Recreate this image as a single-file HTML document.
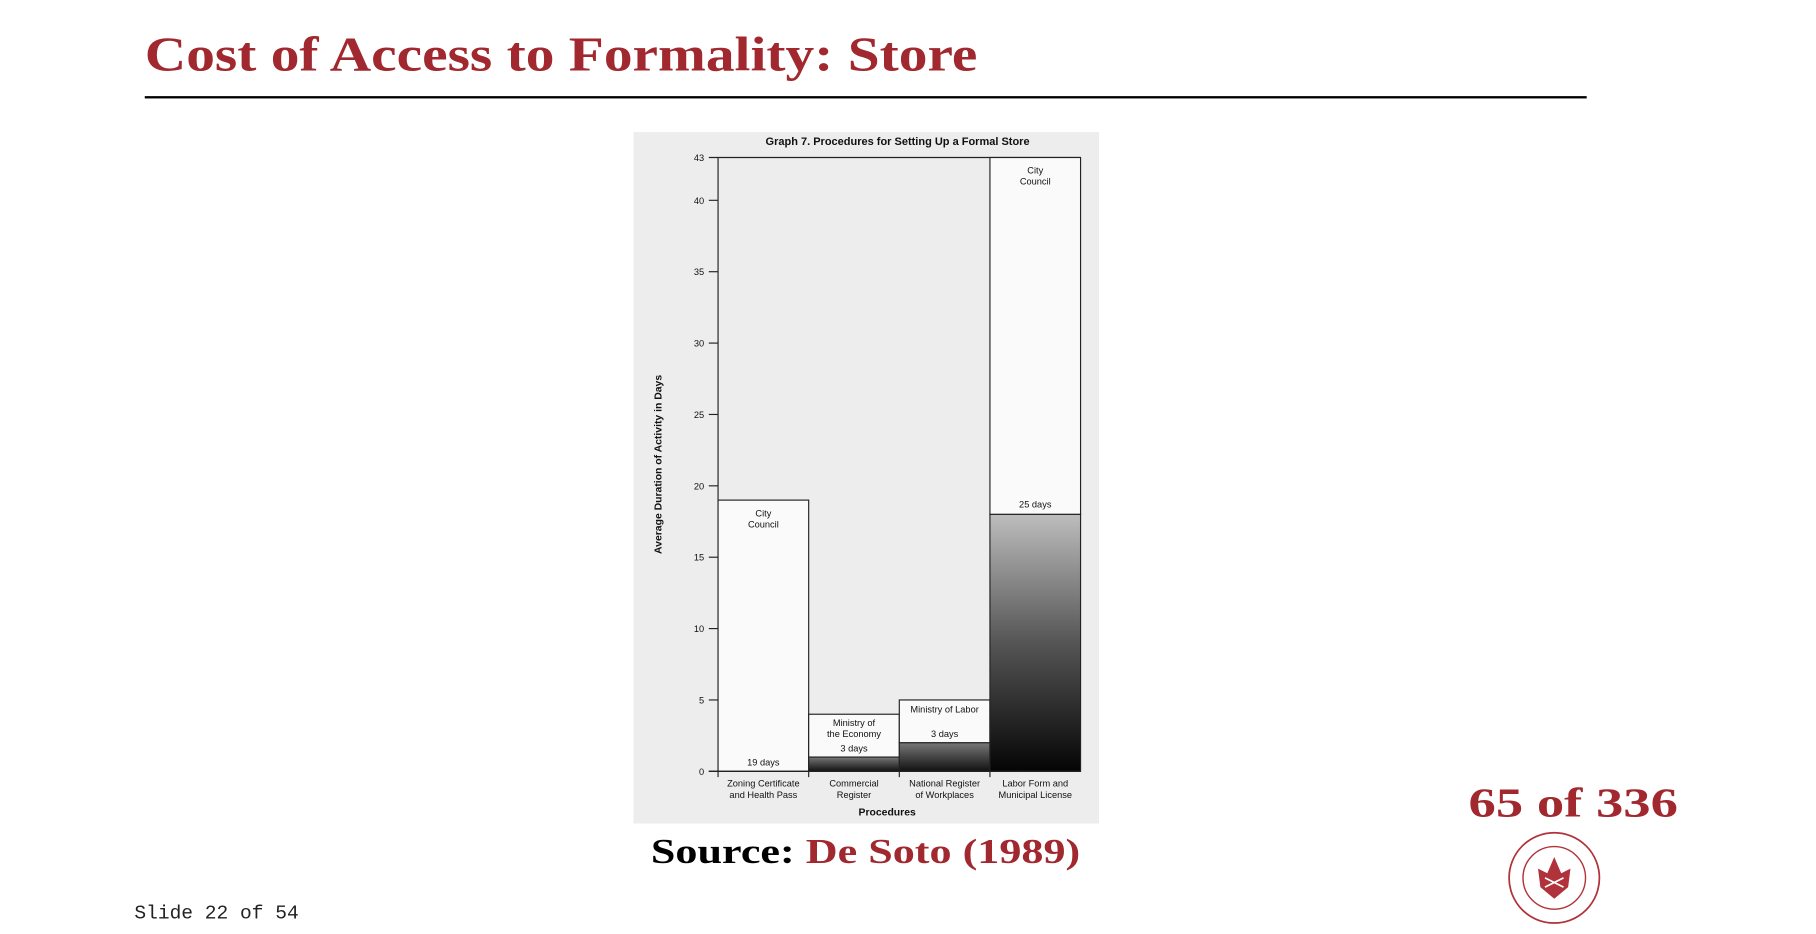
<!DOCTYPE html>
<html><head><meta charset="utf-8">
<style>
html,body{margin:0;padding:0;background:#fff;width:1816px;height:934px;overflow:hidden}
#slide{position:absolute;left:0;top:0;width:1568px;height:806px;transform:scale(1.15816);transform-origin:0 0}
.red{color:#a0282e}
#title{position:absolute;left:125px;top:24px;font:bold 42px "Liberation Serif",serif;color:#a0282e;white-space:nowrap;transform:scaleX(1.18);transform-origin:0 0}
#rule{position:absolute;left:125px;top:83px;width:1245px;height:2px;background:#000}
#chart{position:absolute;left:547px;top:114px}
#source{position:absolute;left:562px;top:719px;font:bold 30px "Liberation Serif",serif;white-space:nowrap;transform:scaleX(1.27);transform-origin:0 0}
#pagenum{position:absolute;left:1268px;top:672px;font:bold 36px "Liberation Serif",serif;color:#a0282e;white-space:nowrap;transform:scaleX(1.31);transform-origin:0 0}
#slideno{position:absolute;left:116px;top:780px;font:16.9px "Liberation Mono",monospace;color:#222}
#logo{position:absolute;left:1300px;top:716px}
</style></head><body>
<div id="slide">
<div id="title">Cost of Access to Formality: Store</div>
<div id="rule"></div>
<svg id="chart" width="402" height="597" viewBox="547 114 402 597">
<defs>
<linearGradient id="g4" x1="0" y1="0" x2="0" y2="1"><stop offset="0" stop-color="#bdbdbd"/><stop offset="0.5" stop-color="#555"/><stop offset="1" stop-color="#050505"/></linearGradient>
<linearGradient id="gs" x1="0" y1="0" x2="0" y2="1"><stop offset="0" stop-color="#777"/><stop offset="1" stop-color="#111"/></linearGradient>
</defs>
<rect x="547" y="114" width="402" height="597" fill="#ededed"/>
<g id="plot" font-family="Liberation Sans, sans-serif" fill="#111"></g>
</svg>
<div id="source">Source: <span class="red">De Soto (1989)</span></div>
<div id="pagenum">65 of 336</div>
<svg id="logo" width="84" height="84" viewBox="0 0 84 84">
<circle cx="42" cy="42" r="39" fill="#fff" stroke="#b0323a" stroke-width="1.5"/>
<circle cx="42" cy="42" r="27" fill="none" stroke="#b0323a" stroke-width="1.2"/>
<path d="M28 34 L36 38 L42 24 L48 38 L56 34 L54 50 L42 60 L30 50 Z" fill="#b0323a"/>
<path d="M34 42 L50 50 M50 42 L34 50" stroke="#fff" stroke-width="1.5"/>
</svg>
<div id="slideno">Slide 22 of 54</div>
</div>
<script>
const categories = ["Zoning Certificate|and Health Pass","Commercial|Register","National Register|of Workplaces","Labor Form and|Municipal License"];
const lowerValues = [0, 1, 2, 18];
const upperValues = [19, 3, 3, 25];
const yTicks = [0,5,10,15,20,25,30,35,40,43];
const upperLabels = ["City|Council","Ministry of|the Economy","Ministry of Labor","City|Council"];
const amountLabels = ["19 days","3 days","3 days","25 days"];

const NS="http://www.w3.org/2000/svg";
const g=document.getElementById('plot');
const x0=620,x1=933,yBase=666,yTop=136,yMax=43;
const y=v=>yBase-(v/yMax)*(yBase-yTop);
const bw=(x1-x0)/categories.length;
const bx=i=>x0+i*bw;
function mk(t,a){const e=document.createElementNS(NS,t);for(const k in a)e.setAttribute(k,a[k]);g.appendChild(e);return e;}
function txt(s,xx,yy,size,anchor,weight){const e=mk('text',{x:xx,y:yy,'font-size':size,'text-anchor':anchor||'middle','font-weight':weight||'normal'});e.textContent=s;return e;}

const t=txt("Graph 7. Procedures for Setting Up a Formal Store",775,125,9.5,'middle','bold');



yTicks.forEach(v=>{
  const l=mk('line',{x1:612,x2:620,y1:y(v),y2:y(v),stroke:'#222','stroke-width':1});
  
  
  const tl=txt(String(v),608,y(v)+3,8,'end');
  
  
});
const ax=mk('line',{x1:x0,x2:x0,y1:yTop,y2:yBase,stroke:'#222','stroke-width':1});


const topLine=mk('line',{x1:x0,x2:x1,y1:yTop,y2:yTop,stroke:'#222','stroke-width':1});



categories.forEach((c,i)=>{
  const total=lowerValues[i]+upperValues[i];
  const up=mk('rect',{x:bx(i),y:y(total),width:bw,height:y(lowerValues[i])-y(total),fill:'#fafafa',stroke:'#222','stroke-width':1});
  
  
  if(lowerValues[i]>0){
    const lo=mk('rect',{x:bx(i),y:y(lowerValues[i]),width:bw,height:yBase-y(lowerValues[i]),fill:i===3?'url(#g4)':'url(#gs)',stroke:'#222','stroke-width':1});
    
    
  }
  const cx=bx(i)+bw/2;
  const ul=upperLabels[i].split('|');
  let ly;
  if(i===0||i===3) ly=y(total)+14;
  else if(i===1) ly=y(total)+10;
  else ly=y(total)+11;
  ul.forEach((s,k)=>{const e=txt(s,cx,ly+k*9.5,8);
    
    });
  let ay;
  if(i===0) ay=yBase-5;
  else if(i===3) ay=y(lowerValues[i])-6;
  else ay=y(lowerValues[i])-5;
  const al=txt(amountLabels[i],cx,ay,8);
  
  
  c.split('|').forEach((s,k)=>{const e=txt(s,cx,679+k*10,8);
    
    });
  const tk=mk('line',{x1:bx(i),x2:bx(i),y1:yBase,y2:yBase+5,stroke:'#222','stroke-width':1});
  
  
});
const xa=mk('line',{x1:x0-8,x2:x1,y1:yBase,y2:yBase,stroke:'#222','stroke-width':1.2});


const xt=txt("Procedures",766,704,9,'middle','bold');


const yt=txt("Average Duration of Activity in Days",0,0,9,'middle','bold');
yt.setAttribute('transform','translate(571,401) rotate(-90)');


</script>
</body></html>
